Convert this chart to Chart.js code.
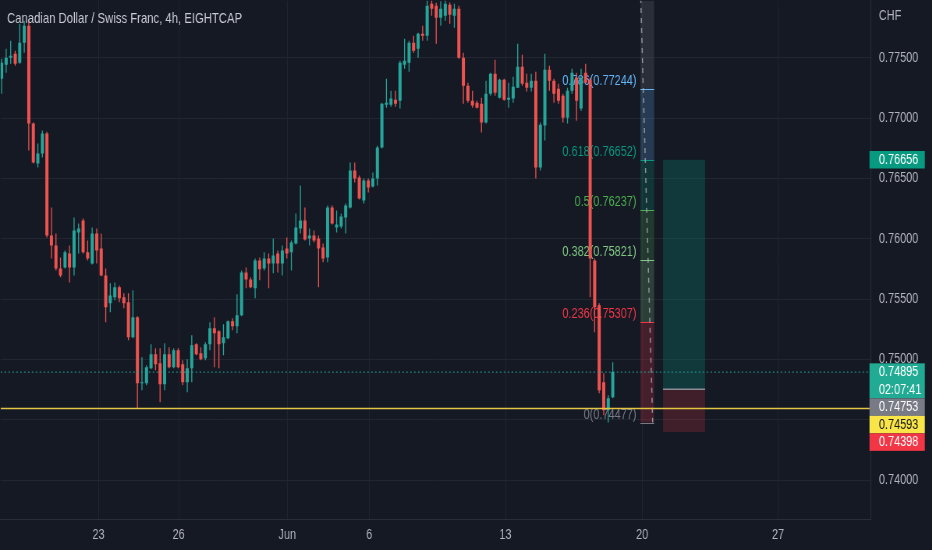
<!DOCTYPE html>
<html lang="en">
<head>
  <meta charset="UTF-8">
  <title>Canadian Dollar / Swiss Franc, 4h</title>
  <script src="https://cdn.jsdelivr.net/npm/chart.js"></script>
  <style>
    html, body { margin: 0; padding: 0; background: #151924; overflow: hidden; }
    /* the source screenshot is squeezed horizontally: draw wider, then scale down */
    #wrap { position: relative; width: 1195px; height: 550px; transform: scaleX(0.78); transform-origin: 0 0; }
  </style>
</head>
<body>
<div id="wrap"><canvas id="chart"></canvas></div>

<script>
  // 4h candles (oldest first)
  const open = [
    0.77328, 0.77444, 0.77502, 0.77535, 0.77461, 0.77626, 0.77767, 0.76956, 0.76624, 0.76707,
    0.76873, 0.76028, 0.75945, 0.75755, 0.75763, 0.75879, 0.75763, 0.76053, 0.76152, 0.75888,
    0.75796, 0.76045, 0.75920, 0.75697, 0.75465, 0.75515, 0.75598, 0.75515, 0.75474, 0.75184,
    0.75349, 0.74803, 0.74803, 0.74927, 0.75043, 0.74968, 0.74794, 0.75043, 0.74935, 0.75076,
    0.74960, 0.74811, 0.74927, 0.75126, 0.75051, 0.75010, 0.75126, 0.75258, 0.75233, 0.75134,
    0.75175, 0.75316, 0.75275, 0.75366, 0.75722, 0.75664, 0.75590, 0.75821, 0.75755, 0.75838,
    0.75796, 0.75879, 0.75796, 0.75920, 0.75888, 0.75962, 0.76086, 0.76152, 0.76003, 0.76028,
    0.76003, 0.75929, 0.75846, 0.76260, 0.76094, 0.76103, 0.76177, 0.76260, 0.76566, 0.76508,
    0.76318, 0.76484, 0.76434, 0.76500, 0.76757, 0.77113, 0.77113, 0.77154, 0.77146, 0.77444,
    0.77461, 0.77626, 0.77577, 0.77701, 0.77684, 0.77949, 0.77933, 0.77833, 0.77850, 0.77941,
    0.77850, 0.77908, 0.77502, 0.77270, 0.77146, 0.77129, 0.77121, 0.76964, 0.77204, 0.77370,
    0.77171, 0.77320, 0.77154, 0.77163, 0.77254, 0.77427, 0.77295, 0.77254, 0.77312, 0.76591,
    0.76939, 0.77403, 0.77312, 0.77245, 0.77187, 0.77005, 0.77229, 0.77336, 0.77080, 0.77378,
    0.77320, 0.75821, 0.75449, 0.74811, 0.74579, 0.74687
  ];
  const high = [
    0.77494, 0.77577, 0.77643, 0.77560, 0.77784, 0.77808, 0.77808, 0.76964, 0.76790, 0.76898,
    0.76889, 0.76260, 0.76045, 0.75846, 0.75904, 0.75945, 0.76177, 0.76128, 0.76169, 0.75987,
    0.76094, 0.76086, 0.76045, 0.75755, 0.75631, 0.75639, 0.75614, 0.75548, 0.75548, 0.75573,
    0.75358, 0.75018, 0.74952, 0.75126, 0.75093, 0.75093, 0.75134, 0.75101, 0.75093, 0.75093,
    0.74993, 0.75002, 0.75200, 0.75134, 0.75101, 0.75142, 0.75308, 0.75349, 0.75242, 0.75291,
    0.75324, 0.75341, 0.75540, 0.75738, 0.75763, 0.75681, 0.75838, 0.75846, 0.75888, 0.75879,
    0.76003, 0.75904, 0.75945, 0.76012, 0.75987, 0.76210, 0.76442, 0.76260, 0.76086, 0.76070,
    0.76028, 0.75962, 0.76277, 0.76277, 0.76235, 0.76210, 0.76293, 0.76633, 0.76633, 0.76525,
    0.76500, 0.76500, 0.76550, 0.76773, 0.77129, 0.77328, 0.77229, 0.77229, 0.77477, 0.77659,
    0.77643, 0.77684, 0.77709, 0.77767, 0.77990, 0.77985, 0.77957, 0.77970, 0.77997, 0.77960,
    0.77949, 0.77933, 0.77543, 0.77295, 0.77229, 0.77146, 0.77171, 0.77312, 0.77378, 0.77485,
    0.77328, 0.77328, 0.77295, 0.77345, 0.77618, 0.77527, 0.77370, 0.77370, 0.77386, 0.76964,
    0.77535, 0.77436, 0.77328, 0.77287, 0.77204, 0.77254, 0.77411, 0.77378, 0.77411, 0.77452,
    0.77336, 0.75838, 0.75465, 0.74886, 0.74703, 0.74977
  ];
  const low = [
    0.77204, 0.77378, 0.77452, 0.77436, 0.77452, 0.77543, 0.76732, 0.76624, 0.76591, 0.76674,
    0.76012, 0.75838, 0.75738, 0.75681, 0.75755, 0.75639, 0.75697, 0.75879, 0.75879, 0.75821,
    0.75788, 0.75796, 0.75689, 0.75308, 0.75391, 0.75490, 0.75474, 0.75424, 0.75159, 0.75175,
    0.74590, 0.74745, 0.74786, 0.74919, 0.74910, 0.74645, 0.74745, 0.74927, 0.74927, 0.74927,
    0.74786, 0.74728, 0.74811, 0.75035, 0.74993, 0.74993, 0.75076, 0.74935, 0.74927, 0.75035,
    0.75167, 0.75242, 0.75217, 0.75358, 0.75590, 0.75590, 0.75507, 0.75656, 0.75738, 0.75590,
    0.75714, 0.75722, 0.75697, 0.75838, 0.75738, 0.75954, 0.76045, 0.75987, 0.75945, 0.75970,
    0.75598, 0.75805, 0.75805, 0.76119, 0.76053, 0.76086, 0.76045, 0.76252, 0.76467, 0.76326,
    0.76293, 0.76384, 0.76426, 0.76442, 0.76749, 0.77088, 0.77096, 0.77096, 0.77080, 0.77411,
    0.77386, 0.77543, 0.77502, 0.77643, 0.77643, 0.77850, 0.77618, 0.77767, 0.77808, 0.77784,
    0.77750, 0.77494, 0.77121, 0.77129, 0.77088, 0.77080, 0.76881, 0.76956, 0.77187, 0.77187,
    0.77163, 0.77146, 0.77088, 0.77129, 0.77254, 0.77270, 0.77221, 0.77221, 0.76500, 0.76566,
    0.76815, 0.77229, 0.77129, 0.77121, 0.76964, 0.76956, 0.77204, 0.76980, 0.77063, 0.77287,
    0.75515, 0.75225, 0.74720, 0.74538, 0.74477, 0.74679
  ];
  const close = [
    0.77461, 0.77502, 0.77519, 0.77452, 0.77626, 0.77767, 0.76956, 0.76633, 0.76707, 0.76873,
    0.76028, 0.75945, 0.75755, 0.75697, 0.75888, 0.75763, 0.76070, 0.76086, 0.75888, 0.75838,
    0.76045, 0.75904, 0.75697, 0.75432, 0.75531, 0.75598, 0.75507, 0.75465, 0.75184, 0.75349,
    0.74803, 0.74811, 0.74935, 0.75043, 0.74960, 0.74794, 0.75043, 0.74935, 0.75076, 0.74935,
    0.74811, 0.74927, 0.75117, 0.75043, 0.75002, 0.75126, 0.75258, 0.75217, 0.75126, 0.75184,
    0.75316, 0.75275, 0.75366, 0.75722, 0.75664, 0.75598, 0.75821, 0.75747, 0.75838, 0.75796,
    0.75863, 0.75796, 0.75904, 0.75879, 0.75970, 0.76094, 0.76152, 0.75995, 0.76028, 0.75987,
    0.75920, 0.75838, 0.76260, 0.76128, 0.76119, 0.76186, 0.76277, 0.76566, 0.76500, 0.76335,
    0.76484, 0.76426, 0.76500, 0.76757, 0.77121, 0.77129, 0.77163, 0.77121, 0.77461, 0.77477,
    0.77626, 0.77560, 0.77701, 0.77684, 0.77933, 0.77908, 0.77833, 0.77908, 0.77949, 0.77858,
    0.77908, 0.77502, 0.77270, 0.77146, 0.77105, 0.77088, 0.76964, 0.77204, 0.77370, 0.77212,
    0.77320, 0.77154, 0.77171, 0.77262, 0.77427, 0.77287, 0.77254, 0.77312, 0.76591, 0.76947,
    0.77403, 0.77312, 0.77204, 0.77146, 0.77005, 0.77229, 0.77378, 0.77146, 0.77336, 0.77295,
    0.75838, 0.75432, 0.74745, 0.74579, 0.74679, 0.74895
  ];

  // axis ticks (x in candle index units)
  const xTickPos = [21.4, 39.1, 63.1, 81.2, 111.3, 141.5, 171.5];
  const xTickLabels = ['23', '26', 'Jun', '6', '13', '20', '27'];
  const yTicks = [0.740, 0.745, 0.750, 0.755, 0.760, 0.765, 0.770, 0.775];

  // fibonacci retracement levels as labelled on the chart
  const fibRatios = [1, 0.786, 0.618, 0.5, 0.382, 0.236, 0];
  const fibPrices = [0.77997, 0.77244, 0.76652, 0.76237, 0.75821, 0.75307, 0.74477];
  const fibColors = ['#787b86', '#64b5f6', '#089981', '#4caf50', '#81c784', '#f23645', '#787b86'];

  // long position tool + horizontal line + last price
  const tpPrice = 0.76656;
  const entryPrice = 0.74753;
  const slPrice = 0.74398;
  const hLinePrice = 0.74593;
  const lastPrice = 0.74895;
  const countdown = '02:07:41';

  const X_MIN = -0.22, X_MAX = 192.05;
  const UP = '#26a69a', DOWN = '#ef5350';
  const FONT = '"Liberation Sans", Arial, sans-serif';
  const TEXT = '#b2b5be';
  const GRID = '#222631';
  const AXIS = '#2a2e39';

  function rgba(hex, a) {
    const n = parseInt(hex.slice(1), 16);
    return `rgba(${n >> 16}, ${(n >> 8) & 255}, ${n & 255}, ${a})`;
  }

  const idx = open.map((_, i) => i);
  const candleColors = idx.map(i => close[i] >= open[i] ? UP : DOWN);

  // drawings: fib box, position box, price labels, title
  const overlay = {
    id: 'overlay',
    beforeDatasetsDraw(chart) {
      const { ctx, chartArea: a, scales: { x, y } } = chart;
      ctx.save();
      ctx.beginPath();
      ctx.rect(a.left, a.top, a.right - a.left, a.bottom - a.top);
      ctx.clip();

      // fib retracement
      const fx0 = x.getPixelForValue(141.1), fx1 = x.getPixelForValue(144.15);
      for (let k = 0; k < fibPrices.length - 1; k++) {
        const t = y.getPixelForValue(fibPrices[k]);
        const b = y.getPixelForValue(fibPrices[k + 1]);
        ctx.fillStyle = rgba(fibColors[k], 0.22);
        ctx.fillRect(fx0, t, fx1 - fx0, b - t);
      }
      ctx.font = '14px ' + FONT;
      ctx.textAlign = 'right';
      ctx.textBaseline = 'bottom';
      fibPrices.forEach((p, k) => {
        const py = Math.round(y.getPixelForValue(p)) + 0.5;
        ctx.strokeStyle = fibColors[k];
        ctx.lineWidth = 1.2;
        ctx.beginPath();
        ctx.moveTo(fx0, py);
        ctx.lineTo(fx1, py);
        ctx.stroke();
        ctx.fillStyle = fibColors[k];
        ctx.fillText(`${fibRatios[k]}(${p.toFixed(5)})`, fx0 - 5, py - 1);
      });
      ctx.strokeStyle = 'rgba(178, 181, 190, 0.75)';
      ctx.lineWidth = 1.5;
      ctx.setLineDash([5, 5]);
      ctx.beginPath();
      ctx.moveTo(x.getPixelForValue(141.17), y.getPixelForValue(fibPrices[0]));
      ctx.lineTo(x.getPixelForValue(143.82), y.getPixelForValue(fibPrices[fibPrices.length - 1]));
      ctx.stroke();
      ctx.setLineDash([]);

      // long position
      const px0 = x.getPixelForValue(146.1), px1 = x.getPixelForValue(155.4);
      const ty = y.getPixelForValue(tpPrice);
      const ey = y.getPixelForValue(entryPrice);
      const sy = y.getPixelForValue(slPrice);
      ctx.fillStyle = 'rgba(8, 153, 129, 0.24)';
      ctx.fillRect(px0, ty, px1 - px0, ey - ty);
      ctx.fillStyle = 'rgba(242, 54, 69, 0.2)';
      ctx.fillRect(px0, ey, px1 - px0, sy - ey);
      ctx.strokeStyle = '#8a8d96';
      ctx.lineWidth = 1.5;
      ctx.beginPath();
      ctx.moveTo(px0, ey);
      ctx.lineTo(px1, ey);
      ctx.stroke();
      ctx.restore();
    },
    afterDraw(chart) {
      const { ctx, chartArea: a, scales: { y } } = chart;
      ctx.save();
      ctx.font = '14.5px ' + FONT;
      ctx.fillStyle = '#c8cbd3';
      ctx.textAlign = 'left';
      ctx.textBaseline = 'alphabetic';
      ctx.fillText('Canadian Dollar / Swiss Franc, 4h, EIGHTCAP', 9, 23);

      ctx.font = '14px ' + FONT;
      ctx.fillStyle = TEXT;
      ctx.fillText('CHF', a.right + 10, 20);

      // price labels on the axis, pushed down when they would overlap
      const labels = [
        { price: tpPrice, lines: [tpPrice.toFixed(5)], bg: '#089981', fg: '#ffffff' },
        { price: lastPrice, lines: [lastPrice.toFixed(5), countdown], bg: '#22ab94', fg: '#ffffff' },
        { price: entryPrice, lines: [entryPrice.toFixed(5)], bg: '#787b86', fg: '#ffffff' },
        { price: hLinePrice, lines: [hLinePrice.toFixed(5)], bg: '#f9e547', fg: '#131722' },
        { price: slPrice, lines: [slPrice.toFixed(5)], bg: '#f23645', fg: '#ffffff' }
      ];
      const lineH = 17.5;
      let prevBottom = -Infinity;
      ctx.textBaseline = 'middle';
      labels.forEach(l => {
        const h = lineH * l.lines.length;
        let top = y.getPixelForValue(l.price) - lineH / 2;
        if (top < prevBottom) top = prevBottom;
        prevBottom = top + h;
        ctx.fillStyle = l.bg;
        ctx.fillRect(a.right - 2, top, 71, h);
        ctx.fillStyle = l.fg;
        l.lines.forEach((t, j) => ctx.fillText(t, a.right + 10, top + lineH * j + lineH / 2 + 0.5));
      });
      ctx.restore();
    }
  };

  Chart.defaults.font.family = FONT;
  Chart.defaults.font.size = 14;
  Chart.defaults.color = TEXT;

  new Chart(document.getElementById('chart'), {
    type: 'bar',
    data: {
      datasets: [
        {
          type: 'line',
          data: [{ x: X_MIN, y: hLinePrice }, { x: X_MAX, y: hLinePrice }],
          borderColor: '#e3c443',
          borderWidth: 1.6,
          pointRadius: 0,
          order: 0
        },
        {
          type: 'line',
          data: [{ x: X_MIN, y: lastPrice }, { x: X_MAX, y: lastPrice }],
          borderColor: UP,
          borderWidth: 1,
          borderDash: [2, 3],
          pointRadius: 0,
          order: 0
        },
        {
          data: idx.map(i => ({ x: i, y: [open[i], close[i]] })),
          backgroundColor: candleColors,
          maxBarThickness: 4,
          minBarLength: 1,
          order: 1
        },
        {
          data: idx.map(i => ({ x: i, y: [low[i], high[i]] })),
          backgroundColor: candleColors,
          maxBarThickness: 1.3,
          order: 2
        }
      ]
    },
    options: {
      responsive: true,
      maintainAspectRatio: false,
      animation: false,
      layout: { padding: 0 },
      datasets: {
        bar: { grouped: false, categoryPercentage: 1, barPercentage: 1, borderWidth: 0, inflateAmount: 0 }
      },
      plugins: { legend: { display: false }, tooltip: { enabled: false } },
      scales: {
        x: {
          type: 'linear',
          min: X_MIN,
          max: X_MAX,
          offset: false,
          afterBuildTicks: s => { s.ticks = xTickPos.map(v => ({ value: v })); },
          afterFit: s => {
            s.height = 31;
            s.paddingLeft = s.paddingRight = s.paddingTop = s.paddingBottom = 0;
          },
          grid: { color: GRID, offset: false, drawTicks: false },
          border: { color: AXIS },
          ticks: {
            padding: 8,
            maxRotation: 0,
            autoSkip: false,
            callback: (v, i) => xTickLabels[i]
          }
        },
        y: {
          type: 'linear',
          position: 'right',
          min: 0.73677,
          max: 0.77974,
          afterBuildTicks: s => { s.ticks = yTicks.map(v => ({ value: v })); },
          afterFit: s => {
            s.width = 78.3;
            s.paddingLeft = s.paddingRight = s.paddingTop = s.paddingBottom = 0;
          },
          grid: { color: GRID, drawTicks: false },
          border: { color: AXIS },
          ticks: { padding: 10, callback: v => v.toFixed(5) }
        }
      }
    },
    plugins: [overlay]
  });
</script>
</body>
</html>
